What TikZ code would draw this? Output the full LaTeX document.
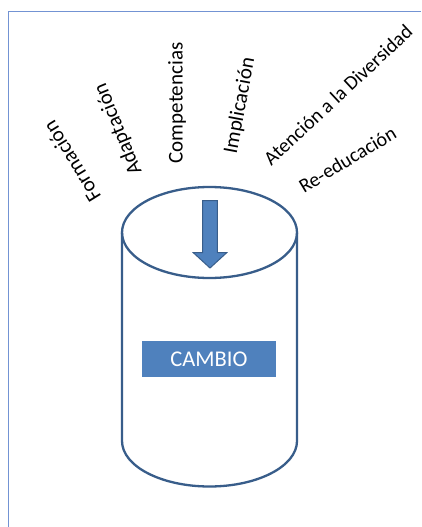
\documentclass[tikz,border=0pt]{standalone}
\usepackage{fontspec}
\setmainfont{Carlito}
\usetikzlibrary{positioning}
\definecolor{edgeblue}{HTML}{385D8A}
\definecolor{fillblue}{HTML}{4F81BD}
\definecolor{frameblue}{HTML}{7393D3}
\begin{document}
\begin{tikzpicture}[x=1pt,y=-1pt,
		lbl/.style={font=\fontsize{21}{25}\selectfont, inner sep=0pt},
		can/.style={draw=edgeblue, line width=2.3pt}]
			\useasboundingbox (0,0) rectangle (421,527);
			\fill[white] (0,0) rectangle (421,527);

			\draw[frameblue, line width=1.3pt] (8.5,527) -- (8.5,11.3) -- (421,11.3);

			\draw[can] (209.5,232.5) ellipse (87.5 and 45.5);
			\draw[can] (122,232.5) -- (122,441) arc[start angle=180, end angle=360, x radius=87.5, y radius=-45.5] -- (297,232.5);

			\filldraw[fill=fillblue, draw=edgeblue, line width=1pt] (202.7,200.7) -- (217.3,200.7) -- (217.3,252.7) -- (226.7,252.7) -- (210,268) -- (193.3,252.7) -- (202.7,252.7) -- cycle;

			\node[fill=fillblue, text=white, minimum width=133.4pt, minimum height=36.6pt, inner sep=0pt,
				font=\fontsize{22.5}{26}\selectfont] (cambio) at (209,359) {CAMBIO};

			\node[lbl, rotate=121.7] (form) at (71.7,161.7) {Formación};
			\node[lbl, rotate=112.2] (adap) at (118.3,129.2) {Adaptación};
			\node[lbl, rotate=90] (comp) at (177,103) {Competencias};
			\node[lbl, rotate=79.4] (impl) at (240,105.8) {Implicación};
			\node[lbl, rotate=43, font=\fontsize{20}{24}\selectfont] (aten) at (338,95) {Atención a la Diversidad};
			\node[lbl, rotate=31, font=\fontsize{20}{24}\selectfont] (reed) at (347.5,159.5) {Re-educación};
	\end{tikzpicture}
\end{document}
